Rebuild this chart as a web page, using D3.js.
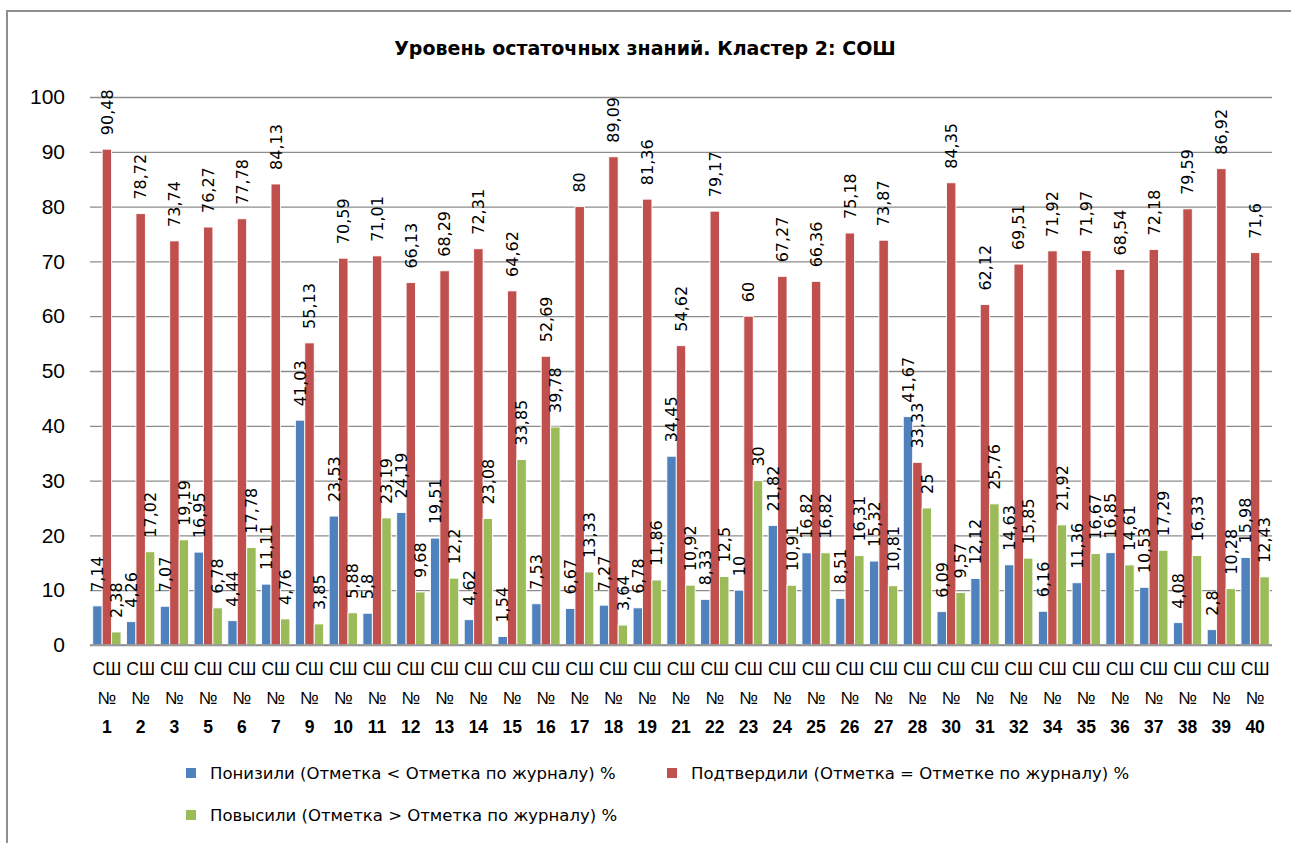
<!DOCTYPE html>
<html>
<head>
<meta charset="utf-8">
<script src="https://cdn.jsdelivr.net/npm/d3@7"></script>
<style>
  body { margin: 0; background: #fff; }
  svg { display: block; font-family: "DejaVu Sans", "Liberation Sans", Arial, sans-serif; }
</style>
</head>
<body>
<svg id="svg" width="1291" height="843"></svg>
<script>
// schools (СШ №)
const schools = ['1', '2', '3', '5', '6', '7', '9', '10', '11', '12', '13', '14', '15', '16', '17', '18', '19',
  '21', '22', '23', '24', '25', '26', '27', '28', '30', '31', '32', '34', '35', '36', '37', '38', '39', '40'];

// Понизили
const lowered = [7.14, 4.26, 7.07, 16.95, 4.44, 11.11, 41.03, 23.53, 5.8, 24.19, 19.51, 4.62, 1.54, 7.53, 6.67, 7.27, 6.78,
  34.45, 8.33, 10, 21.82, 16.82, 8.51, 15.32, 41.67, 6.09, 12.12, 14.63, 6.16, 11.36, 16.85, 10.53, 4.08, 2.8, 15.98];
// Подтвердили
const confirmed = [90.48, 78.72, 73.74, 76.27, 77.78, 84.13, 55.13, 70.59, 71.01, 66.13, 68.29, 72.31, 64.62, 52.69, 80, 89.09, 81.36,
  54.62, 79.17, 60, 67.27, 66.36, 75.18, 73.87, 33.33, 84.35, 62.12, 69.51, 71.92, 71.97, 68.54, 72.18, 79.59, 86.92, 71.6];
// Повысили
const raised = [2.38, 17.02, 19.19, 6.78, 17.78, 4.76, 3.85, 5.88, 23.19, 9.68, 12.2, 23.08, 33.85, 39.78, 13.33, 3.64, 11.86,
  10.92, 12.5, 30, 10.91, 16.82, 16.31, 10.81, 25, 9.57, 25.76, 15.85, 21.92, 16.67, 14.61, 17.29, 16.33, 10.28, 12.43];

const seriesNames = [
  'Понизили (Отметка < Отметка по журналу) %',
  'Подтвердили (Отметка = Отметке по журналу) %',
  'Повысили (Отметка > Отметка по журналу) %'
];
const seriesColors = ['#4F81BD', '#C0504D', '#9BBB59'];
const yTicks = [0, 10, 20, 30, 40, 50, 60, 70, 80, 90, 100];

const series = [lowered, confirmed, raised].map((values, i) => ({ name: seriesNames[i], color: seriesColors[i], values }));

const svg = d3.select('#svg');
const plot = { left: 90, right: 1272, top: 97, bottom: 645 };

// chart frame (cut by the page edge on right/bottom)
svg.append('rect')
  .attr('x', 7).attr('y', 11).attr('width', 1320).attr('height', 880)
  .attr('fill', 'none').attr('stroke', '#8f8f8f').attr('stroke-width', 2);

svg.append('text')
  .attr('x', 645).attr('y', 55)
  .attr('text-anchor', 'middle')
  .attr('font-size', 19).attr('font-weight', 'bold')
  .text('Уровень остаточных знаний. Кластер 2: СОШ');

const x0 = d3.scaleBand().domain(schools).range([plot.left, plot.right]).padding(0);
const x1 = d3.scaleBand().domain(d3.range(3)).range([0, x0.bandwidth()]).paddingInner(0).paddingOuter(0.29);
const y = d3.scaleLinear().domain([0, 100]).range([plot.bottom, plot.top]);

// gridlines + y labels
const yAxis = svg.append('g')
  .attr('transform', `translate(${plot.left},0)`)
  .call(d3.axisLeft(y).tickValues(yTicks).tickSize(-(plot.right - plot.left)).tickPadding(25).tickFormat(d3.format('d')));
yAxis.select('.domain').remove();
yAxis.selectAll('.tick line').attr('stroke', '#8c8c8c').attr('stroke-width', 1.3);
yAxis.selectAll('.tick text').attr('font-family', '"Liberation Sans", Arial, sans-serif')
  .style('font-size', '21px').attr('fill', '#000');

// bars
const groups = svg.append('g').selectAll('g')
  .data(series).join('g')
  .attr('fill', d => d.color);

groups.selectAll('rect')
  .data((s, si) => s.values.map((v, i) => ({ si, school: schools[i], v })))
  .join('rect')
  .attr('x', d => x0(d.school) + x1(d.si))
  .attr('y', d => y(d.v))
  .attr('width', x1.bandwidth())
  .attr('height', d => y(0) - y(d.v))
  .attr('stroke', '#fff')
  .attr('stroke-width', 0.9);

// data labels
const fmt = v => String(v).replace('.', ',');
svg.append('g').selectAll('text')
  .data(series.flatMap((s, si) => s.values.map((v, i) => ({ si, school: schools[i], v }))))
  .join('text')
  .attr('transform', d => `translate(${x0(d.school) + x1(d.si) + x1.bandwidth() / 2},${y(d.v) - 14}) rotate(-90)`)
  .attr('dy', '0.36em')
  .attr('font-size', 16)
  .attr('fill', '#000')
  .text(d => fmt(d.v));

// x axis
svg.append('line')
  .attr('x1', plot.left).attr('x2', plot.right)
  .attr('y1', plot.bottom).attr('y2', plot.bottom)
  .attr('stroke', '#8c8c8c').attr('stroke-width', 1.3);

const xAxis = svg.append('g')
  .attr('transform', `translate(0,${plot.bottom})`)
  .call(d3.axisBottom(x0).tickSize(0).tickFormat(''));
xAxis.select('.domain').remove();
const xt = xAxis.selectAll('.tick').append('text')
  .attr('text-anchor', 'middle')
  .attr('font-size', 17.5)
  .attr('fill', '#000');
xt.append('tspan').attr('x', 0).attr('y', 30).text('СШ');
xt.append('tspan').attr('x', 0).attr('y', 59).text('№');
xt.append('tspan').attr('x', 0).attr('y', 88).attr('font-weight', 600).text(d => d);

// legend
const legendPos = [[186, 773], [667, 773], [186, 815]];
const legend = svg.append('g').selectAll('g')
  .data(series).join('g')
  .attr('transform', (d, i) => `translate(${legendPos[i][0]},${legendPos[i][1]})`);
legend.append('rect')
  .attr('x', 0).attr('y', -5).attr('width', 10).attr('height', 10)
  .attr('fill', d => d.color);
legend.append('text')
  .attr('x', 24).attr('dy', '0.35em')
  .attr('font-size', 16.5)
  .attr('fill', '#000')
  .text(d => d.name);
</script>
</body>
</html>
